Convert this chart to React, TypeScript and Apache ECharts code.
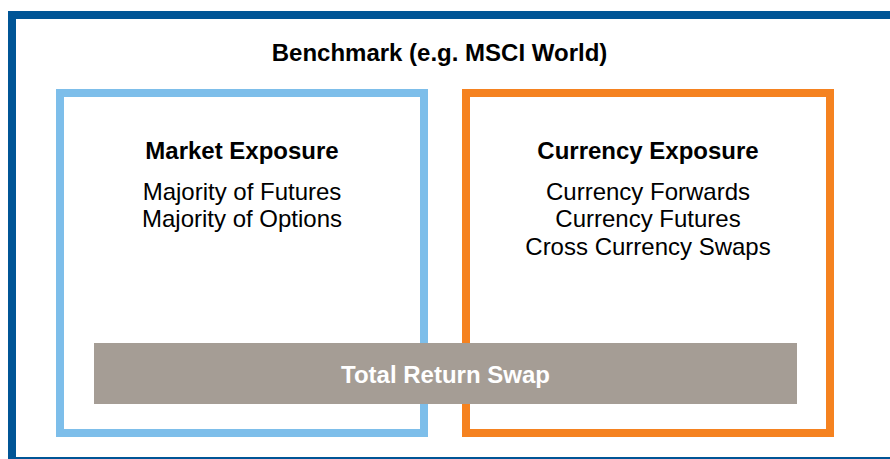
import React, { useEffect, useRef } from "react";
import * as echarts from "echarts";

const benchmarkTitle = "Benchmark (e.g. MSCI World)";
const leftTitle = "Market Exposure";
const leftItems = ["Majority of Futures", "Majority of Options"];
const rightTitle = "Currency Exposure";
const rightItems = ["Currency Forwards", "Currency Futures", "Cross Currency Swaps"];
const bandLabel = "Total Return Swap";

const FONT = "'Liberation Sans', Arial, sans-serif";
const BOLD = `bold 24px ${FONT}`;

export default function App() {
  const ref = useRef<HTMLDivElement>(null);
  useEffect(() => {
    if (!ref.current) return;
    const chart = echarts.init(ref.current, undefined, { renderer: "svg" });
    const itemText = (items: string[], cx: number, startY: number) =>
      items.map((t, i) => ({
        type: "text",
        x: cx,
        y: startY + i * 27.5,
        style: {
          text: t,
          fill: "#000",
          font: `24px ${FONT}`,
          textAlign: "center",
          textVerticalAlign: "middle",
        },
      }));
    const title = (t: string, x: number, y: number, fill = "#000") => ({
      type: "text",
      x,
      y,
      style: { text: t, fill, font: BOLD, textAlign: "center", textVerticalAlign: "middle" },
    });
    chart.setOption({
      animation: false,
      graphic: [
        {
          type: "rect",
          shape: { x: 12, y: 15, width: 890, height: 446 },
          style: { fill: "#fff", stroke: "#005596", lineWidth: 8 },
        },
        title(benchmarkTitle, 439.5, 52),
        {
          type: "rect",
          shape: { x: 60, y: 93, width: 364, height: 340 },
          style: { fill: "none", stroke: "#7dbeea", lineWidth: 8 },
        },
        {
          type: "rect",
          shape: { x: 466, y: 93, width: 364, height: 340 },
          style: { fill: "none", stroke: "#f58220", lineWidth: 8 },
        },
        title(leftTitle, 242, 150),
        ...itemText(leftItems, 242, 191),
        title(rightTitle, 648, 150),
        ...itemText(rightItems, 648, 191),
        {
          type: "rect",
          shape: { x: 94, y: 343, width: 703, height: 61 },
          style: { fill: "#a59d95" },
        },
        title(bandLabel, 445.5, 374, "#fff"),
      ],
    });
    return () => chart.dispose();
  }, []);
  return (
    <div
      ref={ref}
      style={{ position: "absolute", left: 0, top: 0, width: 890, height: 459, background: "#fff" }}
    />
  );
}
